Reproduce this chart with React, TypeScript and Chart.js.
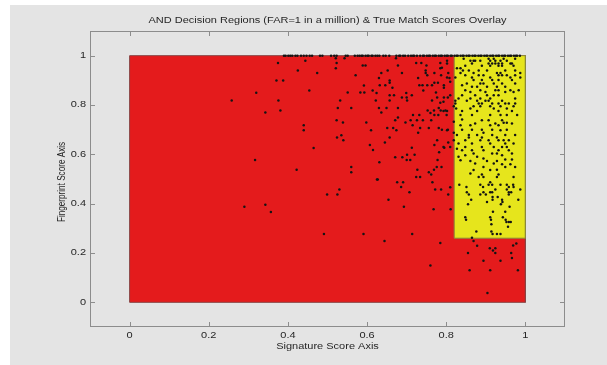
import React, { useEffect, useRef } from "react";
import { Chart, registerables } from "chart.js";

Chart.register(...registerables);

const TITLE = "AND Decision Regions (FAR=1 in a million) & True Match Scores Overlay";
const X_TITLE = "Signature Score Axis";
const Y_TITLE = "Fingerprint Score Axis";

const xTicks = [0, 0.2, 0.4, 0.6, 0.8, 1];
const yTicks = [0, 0.2, 0.4, 0.6, 0.8, 1];
const xTickLabels = ["0", "0.2", "0.4", "0.6", "0.8", "1"];
const yTickLabels = ["0", "0.2", "0.4", "0.6", "0.8", "1"];
const axisMin = -0.1;
const axisMax = 1.1;

// Decision regions: [xMin, xMax, yMin, yMax]
const rejectRegion = [0, 1, 0, 1];
const acceptRegion = [0.82, 1, 0.26, 1];

// True match scores with fingerprint score saturated at 1
const topRowSig = [
  0.39, 0.394, 0.401, 0.406, 0.411, 0.419, 0.424, 0.433, 0.44, 0.447, 0.455, 0.461,
  0.481, 0.487, 0.509, 0.517, 0.523, 0.546, 0.551, 0.569, 0.576, 0.581, 0.586, 0.589,
  0.596, 0.601, 0.604, 0.611, 0.614, 0.621, 0.626, 0.631, 0.641, 0.647, 0.656, 0.674,
  0.681, 0.684, 0.691, 0.696, 0.704, 0.711, 0.716, 0.719, 0.726, 0.734, 0.741, 0.744,
  0.751, 0.756, 0.759, 0.766, 0.771, 0.774, 0.781, 0.786, 0.789, 0.796, 0.801, 0.804,
  0.811, 0.814, 0.821, 0.826, 0.829, 0.836, 0.841, 0.844, 0.851, 0.856, 0.859, 0.866,
  0.871, 0.874, 0.881, 0.886, 0.889, 0.896, 0.901, 0.904, 0.911, 0.916, 0.919, 0.926,
  0.931, 0.934, 0.941, 0.946, 0.949, 0.956, 0.961, 0.964, 0.971, 0.976, 0.979, 0.986,
];

// True match scores: [signature, fingerprint]
const matchScores: [number, number][] = [
  [0.32, 0.85], [0.258, 0.818], [0.343, 0.77], [0.317, 0.577], [0.29, 0.387], [0.343, 0.396], [0.357, 0.366],
  [0.375, 0.97], [0.444, 0.979], [0.425, 0.94], [0.474, 0.93], [0.371, 0.899], [0.388, 0.899], [0.454, 0.859],
  [0.376, 0.818], [0.381, 0.778], [0.44, 0.718], [0.44, 0.698], [0.535, 0.677], [0.54, 0.657], [0.524, 0.668],
  [0.465, 0.626], [0.422, 0.537], [0.521, 0.99], [0.523, 0.97], [0.521, 0.949], [0.543, 0.99], [0.571, 0.921],
  [0.589, 0.96], [0.596, 0.96], [0.551, 0.851], [0.583, 0.851], [0.593, 0.851], [0.592, 0.879], [0.614, 0.859],
  [0.624, 0.849], [0.532, 0.818], [0.526, 0.788], [0.56, 0.788], [0.622, 0.818], [0.63, 0.788], [0.636, 0.77],
  [0.649, 0.788], [0.632, 0.88], [0.646, 0.88], [0.657, 0.899], [0.657, 0.89], [0.664, 0.87], [0.657, 0.84],
  [0.668, 0.84], [0.657, 0.818], [0.678, 0.788], [0.688, 0.83], [0.699, 0.849], [0.7, 0.83], [0.701, 0.818],
  [0.713, 0.84], [0.652, 0.94], [0.636, 0.93], [0.63, 0.909], [0.673, 0.99], [0.678, 0.96], [0.688, 0.93],
  [0.724, 0.97], [0.737, 0.97], [0.75, 0.96], [0.748, 0.94], [0.748, 0.93], [0.752, 0.921], [0.77, 0.93],
  [0.787, 0.921], [0.785, 0.97], [0.785, 0.949], [0.802, 0.979], [0.805, 0.93], [0.808, 0.909], [0.729, 0.909],
  [0.732, 0.88], [0.74, 0.88], [0.752, 0.88], [0.764, 0.88], [0.742, 0.859], [0.77, 0.89], [0.779, 0.89],
  [0.794, 0.88], [0.794, 0.87], [0.774, 0.851], [0.777, 0.83], [0.764, 0.818], [0.794, 0.83], [0.785, 0.809],
  [0.804, 0.83], [0.753, 0.778], [0.769, 0.778], [0.781, 0.788], [0.786, 0.778], [0.798, 0.778], [0.76, 0.768],
  [0.77, 0.759], [0.78, 0.759], [0.716, 0.759], [0.732, 0.759], [0.71, 0.738], [0.697, 0.729], [0.726, 0.738],
  [0.741, 0.738], [0.762, 0.738], [0.801, 0.759], [0.523, 0.738], [0.539, 0.729], [0.598, 0.729], [0.61, 0.698],
  [0.651, 0.707], [0.666, 0.707], [0.674, 0.698], [0.678, 0.749], [0.671, 0.738], [0.715, 0.718], [0.734, 0.707],
  [0.756, 0.707], [0.781, 0.707], [0.729, 0.688], [0.802, 0.698], [0.657, 0.668], [0.645, 0.648], [0.777, 0.657],
  [0.77, 0.638], [0.795, 0.627], [0.805, 0.648], [0.607, 0.638], [0.615, 0.618], [0.713, 0.627], [0.72, 0.598],
  [0.701, 0.598], [0.689, 0.588], [0.671, 0.588], [0.7, 0.577], [0.709, 0.577], [0.778, 0.577], [0.631, 0.568],
  [0.56, 0.549], [0.56, 0.527], [0.727, 0.537], [0.776, 0.549], [0.788, 0.549], [0.769, 0.537], [0.756, 0.527],
  [0.762, 0.518], [0.724, 0.508], [0.734, 0.508], [0.782, 0.608], [0.625, 0.498],
  [0.627, 0.498], [0.676, 0.487], [0.691, 0.487], [0.686, 0.468], [0.765, 0.487], [0.772, 0.457], [0.787, 0.457],
  [0.805, 0.437], [0.707, 0.446], [0.654, 0.416], [0.693, 0.387], [0.768, 0.377], [0.53, 0.457], [0.499, 0.437],
  [0.525, 0.437], [0.491, 0.277], [0.591, 0.277], [0.644, 0.249], [0.714, 0.277], [0.785, 0.241], [0.76, 0.149],
  [0.802, 0.968], [0.789, 0.951], [0.802, 0.911], [0.81, 0.894], [0.793, 0.813], [0.793, 0.776], [0.802, 0.776],
  [0.789, 0.7], [0.804, 0.7], [0.793, 0.63], [0.81, 0.63], [0.81, 0.84], [0.81, 0.467], [0.811, 0.377],
  [0.844, 0.988], [0.907, 0.988], [0.92, 0.988], [0.945, 0.988], [0.974, 0.988],
  [0.861, 0.979], [0.869, 0.979], [0.873, 0.979], [0.886, 0.979], [0.911, 0.979], [0.924, 0.979], [0.937, 0.979], [0.953, 0.979],
  [0.865, 0.968], [0.907, 0.968], [0.916, 0.968], [0.924, 0.968], [0.932, 0.968], [0.941, 0.968], [0.962, 0.968], [0.966, 0.968],
  [0.827, 0.949], [0.836, 0.949],
  [0.848, 0.959], [0.89, 0.959], [0.911, 0.959], [0.932, 0.959], [0.941, 0.959], [0.97, 0.959],
  [0.842, 0.94], [0.857, 0.94], [0.882, 0.94], [0.903, 0.94], [0.949, 0.94], [0.974, 0.94],
  [0.836, 0.93], [0.869, 0.93], [0.928, 0.93], [0.937, 0.93], [0.987, 0.93],
  [0.848, 0.921], [0.882, 0.921], [0.894, 0.921], [0.932, 0.921], [0.941, 0.921], [0.953, 0.921], [0.974, 0.921],
  [0.823, 0.911], [0.865, 0.911], [0.911, 0.911], [0.962, 0.911], [0.987, 0.911],
  [0.869, 0.901], [0.89, 0.901], [0.916, 0.901], [0.932, 0.901], [0.966, 0.901],
  [0.852, 0.887], [0.886, 0.887], [0.894, 0.887], [0.92, 0.887], [0.941, 0.887], [0.974, 0.887], [0.84, 0.88],
  [0.865, 0.874], [0.878, 0.874], [0.903, 0.874], [0.928, 0.874], [0.949, 0.874],
  [0.848, 0.86], [0.886, 0.86], [0.924, 0.86], [0.932, 0.86], [0.962, 0.86], [0.983, 0.86],
  [0.861, 0.853], [0.899, 0.853], [0.949, 0.853], [0.97, 0.853],
  [0.84, 0.84], [0.873, 0.84], [0.903, 0.84], [0.92, 0.84], [0.932, 0.84],
  [0.831, 0.826], [0.861, 0.826], [0.886, 0.826], [0.911, 0.826], [0.974, 0.826],
  [0.823, 0.817], [0.852, 0.817], [0.878, 0.817], [0.899, 0.817], [0.907, 0.817], [0.941, 0.817],
  [0.823, 0.806], [0.882, 0.806], [0.89, 0.806], [0.916, 0.806], [0.932, 0.806], [0.949, 0.806], [0.958, 0.806], [0.974, 0.806],
  [0.819, 0.795], [0.869, 0.795], [0.886, 0.795], [0.911, 0.795], [0.937, 0.795], [0.97, 0.795],
  [0.825, 0.786], [0.861, 0.786], [0.92, 0.786], [0.953, 0.786],
  [0.84, 0.776], [0.878, 0.776], [0.932, 0.776], [0.966, 0.776],
  [0.836, 0.759], [0.865, 0.759], [0.911, 0.759], [0.937, 0.759], [0.953, 0.759], [0.979, 0.759],
  [0.84, 0.741], [0.89, 0.738], [0.907, 0.738], [0.941, 0.738], [0.945, 0.728], [0.953, 0.728], [0.819, 0.732],
  [0.873, 0.725], [0.924, 0.725], [0.966, 0.725],
  [0.836, 0.718], [0.861, 0.718], [0.911, 0.718], [0.932, 0.718],
  [0.84, 0.7], [0.865, 0.7], [0.89, 0.7], [0.916, 0.7], [0.953, 0.7], [0.819, 0.688], [0.894, 0.688], [0.937, 0.698],
  [0.827, 0.678], [0.857, 0.678], [0.878, 0.678], [0.916, 0.678], [0.949, 0.678], [0.974, 0.678],
  [0.857, 0.668], [0.89, 0.668], [0.928, 0.668],
  [0.819, 0.657], [0.848, 0.657], [0.886, 0.657], [0.907, 0.657], [0.932, 0.657], [0.945, 0.657], [0.958, 0.657],
  [0.831, 0.644], [0.865, 0.644], [0.911, 0.644], [0.949, 0.644], [0.97, 0.644],
  [0.848, 0.63], [0.89, 0.63], [0.92, 0.63], [0.941, 0.63], [0.953, 0.63], [0.827, 0.623],
  [0.84, 0.617], [0.865, 0.617], [0.894, 0.617], [0.932, 0.617], [0.958, 0.617],
  [0.869, 0.603], [0.916, 0.603], [0.928, 0.603], [0.966, 0.603], [0.941, 0.596],
  [0.831, 0.59], [0.848, 0.596], [0.878, 0.59], [0.894, 0.583], [0.949, 0.579], [0.966, 0.579],
  [0.836, 0.576], [0.861, 0.573], [0.903, 0.573], [0.928, 0.573],
  [0.873, 0.563], [0.92, 0.563], [0.941, 0.56], [0.962, 0.56],
  [0.894, 0.549], [0.949, 0.549], [0.974, 0.549],
  [0.869, 0.536], [0.911, 0.536], [0.928, 0.538],
  [0.861, 0.522], [0.89, 0.518], [0.932, 0.518],
  [0.882, 0.508], [0.894, 0.508], [0.928, 0.508], [0.97, 0.508],
  [0.911, 0.487], [0.833, 0.477], [0.886, 0.477], [0.907, 0.477], [0.916, 0.477], [0.937, 0.477], [0.953, 0.477], [0.969, 0.477],
  [0.851, 0.468], [0.893, 0.468], [0.958, 0.468], [0.97, 0.468],
  [0.924, 0.457], [0.953, 0.457], [0.987, 0.457],
  [0.852, 0.446], [0.894, 0.446], [0.911, 0.446], [0.916, 0.446], [0.958, 0.446], [0.964, 0.446],
  [0.857, 0.437], [0.886, 0.437], [0.9, 0.437], [0.958, 0.437],
  [0.917, 0.427], [0.93, 0.427],
  [0.863, 0.416], [0.917, 0.416], [0.941, 0.416], [0.982, 0.416],
  [0.903, 0.407], [0.942, 0.407], [0.855, 0.398], [0.938, 0.398], [0.96, 0.387],
  [0.918, 0.367], [0.949, 0.367],
  [0.848, 0.345], [0.911, 0.345], [0.943, 0.345], [0.85, 0.335], [0.913, 0.335], [0.95, 0.335],
  [0.952, 0.326], [0.958, 0.326], [0.963, 0.326], [0.914, 0.317], [0.956, 0.306],
  [0.876, 0.287], [0.914, 0.287], [0.917, 0.277], [0.928, 0.277], [0.937, 0.277], [0.865, 0.262],
  [0.869, 0.249], [0.878, 0.229], [0.91, 0.219], [0.924, 0.219], [0.918, 0.21], [0.924, 0.2], [0.964, 0.2],
  [0.969, 0.23], [0.977, 0.239], [0.855, 0.2], [0.966, 0.18], [0.894, 0.169], [0.937, 0.169],
  [0.859, 0.13], [0.911, 0.13], [0.981, 0.13], [0.904, 0.038],
];

const FONT = "'Liberation Sans', Arial, sans-serif";
const TEXT_COLOR = "#262626";
const AXIS_COLOR = "#8c8c8c";
const FIG_BG = "#e4e4e4";
const TEXT_SQUASH = 0.78;

function rectOutline(r: number[]) {
  const [x0, x1, y0, y1] = r;
  return [
    { x: x0, y: y0 },
    { x: x0, y: y1 },
    { x: x1, y: y1 },
    { x: x1, y: y0 },
    { x: x0, y: y0 },
  ];
}

function rectTop(r: number[]) {
  const [x0, x1, , y1] = r;
  return [
    { x: x0, y: y1 },
    { x: x1, y: y1 },
  ];
}

function squashedText(ctx: any, text: string, x: number, y: number, align: string) {
  ctx.save();
  ctx.translate(x, y);
  ctx.scale(1, TEXT_SQUASH);
  ctx.textAlign = align;
  ctx.textBaseline = "middle";
  ctx.fillText(text, 0, 0);
  ctx.restore();
}

const framePlugin = {
  id: "matlabFrame",
  beforeDraw(chart: any) {
    const ctx = chart.ctx;
    ctx.save();
    ctx.fillStyle = "#ffffff";
    ctx.fillRect(0, 0, chart.width, chart.height);
    ctx.fillStyle = FIG_BG;
    ctx.fillRect(10, 5, chart.width - 10, chart.height - 5);
    ctx.restore();
  },
  afterDraw(chart: any) {
    const ctx = chart.ctx;
    const a = chart.chartArea;
    const xs = chart.scales.x;
    const ys = chart.scales.y;
    ctx.save();
    ctx.strokeStyle = AXIS_COLOR;
    ctx.lineWidth = 1;
    ctx.strokeRect(a.left + 0.5, a.top + 0.5, a.right - a.left - 1, a.bottom - a.top - 1);
    const tl = 5;
    ctx.beginPath();
    xTicks.forEach((v) => {
      const px = Math.round(xs.getPixelForValue(v)) + 0.5;
      ctx.moveTo(px, a.bottom);
      ctx.lineTo(px, a.bottom - tl);
      ctx.moveTo(px, a.top);
      ctx.lineTo(px, a.top + tl);
    });
    yTicks.forEach((v) => {
      const py = Math.round(ys.getPixelForValue(v)) + 0.5;
      ctx.moveTo(a.left, py);
      ctx.lineTo(a.left + tl, py);
      ctx.moveTo(a.right, py);
      ctx.lineTo(a.right - tl, py);
    });
    ctx.stroke();

    ctx.fillStyle = TEXT_COLOR;
    ctx.font = `11px ${FONT}`;
    xTicks.forEach((v, i) => {
      squashedText(ctx, xTickLabels[i], xs.getPixelForValue(v), a.bottom + 8.5, "center");
    });
    yTicks.forEach((v, i) => {
      squashedText(ctx, yTickLabels[i], a.left - 4, ys.getPixelForValue(v), "right");
    });

    const cx = (a.left + a.right) / 2;
    squashedText(ctx, TITLE, cx, 21, "center");
    squashedText(ctx, X_TITLE, cx, 346.5, "center");

    ctx.save();
    ctx.translate(62, (a.top + a.bottom) / 2 + 3);
    ctx.rotate(-Math.PI / 2);
    ctx.scale(TEXT_SQUASH * 0.95, 1);
    ctx.textAlign = "center";
    ctx.textBaseline = "middle";
    ctx.fillText(Y_TITLE, 0, 0);
    ctx.restore();
    ctx.restore();
  },
};

export default function App() {
  const ref = useRef<HTMLCanvasElement | null>(null);
  useEffect(() => {
    document.body.style.margin = "0";
    const canvas = ref.current;
    if (!canvas) return;
    const chart = new Chart(canvas, {
      type: "scatter",
      data: {
        datasets: [
          {
            label: "True match scores",
            data: [
              ...matchScores.map(([x, y]) => ({ x, y })),
              ...topRowSig.map((x) => ({ x, y: 1 })),
            ],
            backgroundColor: "#141414",
            borderWidth: 0,
            pointRadius: 1.25,
            pointHoverRadius: 1.25,
          },
          {
            label: "Accept region edge",
            data: rectOutline(acceptRegion),
            showLine: true,
            fill: false,
            borderColor: "#8a8a3c",
            borderWidth: 1,
            pointRadius: 0,
          },
          {
            label: "Accept region",
            data: rectTop(acceptRegion),
            showLine: true,
            fill: { value: acceptRegion[2] },
            backgroundColor: "#e6e51c",
            borderWidth: 0,
            pointRadius: 0,
          },
          {
            label: "Reject region edge",
            data: rectOutline(rejectRegion),
            showLine: true,
            fill: false,
            borderColor: "#8a4444",
            borderWidth: 1,
            pointRadius: 0,
          },
          {
            label: "Reject region",
            data: rectTop(rejectRegion),
            showLine: true,
            fill: { value: rejectRegion[2] },
            backgroundColor: "#e41b1c",
            borderWidth: 0,
            pointRadius: 0,
          },
        ],
      },
      options: {
        animation: false,
        responsive: true,
        maintainAspectRatio: false,
        events: [],
        layout: { padding: { top: 31, right: 42, bottom: 0, left: 0 } },
        plugins: {
          legend: { display: false },
          tooltip: { enabled: false },
          title: { display: false },
        },
        scales: {
          x: {
            type: "linear",
            min: axisMin,
            max: axisMax,
            afterBuildTicks: (s: any) => {
              s.ticks = xTicks.map((v) => ({ value: v }));
            },
            afterFit: (s: any) => {
              s.height = 38;
            },
            grid: { display: false },
            border: { display: false },
            ticks: { display: false },
          },
          y: {
            type: "linear",
            min: axisMin,
            max: axisMax,
            afterBuildTicks: (s: any) => {
              s.ticks = yTicks.map((v) => ({ value: v }));
            },
            afterFit: (s: any) => {
              s.width = 90;
            },
            grid: { display: false },
            border: { display: false },
            ticks: { display: false },
          },
        },
      },
      plugins: [framePlugin],
    });
    return () => chart.destroy();
  }, []);
  return (
    <div style={{ position: "relative", width: "607px", height: "365px" }}>
      <canvas ref={ref} />
    </div>
  );
}
